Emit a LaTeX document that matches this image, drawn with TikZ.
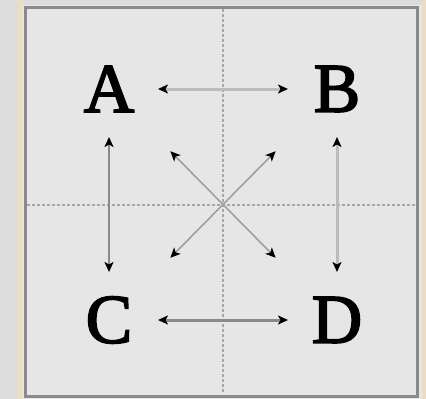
\documentclass[tikz,border=0pt]{standalone}
\usepackage{fontspec}
\setmainfont{Liberation Serif}
\newfontfamily\letterfont[FakeBold=2.5]{Liberation Serif}
\usetikzlibrary{arrows.meta}
\definecolor{bgout}{HTML}{DCDCDC}
\definecolor{beige}{HTML}{EADFC6}
\definecolor{panel}{HTML}{E6E6E6}
\definecolor{frame}{HTML}{8A8A8A}
\definecolor{guide}{HTML}{A6A6A6}
\definecolor{lightln}{HTML}{BCBCBC}
\definecolor{darkln}{HTML}{8A8A8A}
\definecolor{diagln}{HTML}{A0A0A0}
\tikzset{
  letter/.style={font=\fontsize{70}{70}\letterfont, minimum width=98bp, minimum height=96bp, inner sep=0pt, outer sep=0pt},
  link/.style={{Stealth[length=10bp,width=9bp,inset=2.5bp,black]}-{Stealth[length=10bp,width=9bp,inset=2.5bp,black]}, line width=2bp},
  guideline/.style={guide, line width=1.4bp, dash pattern=on 3bp off 2bp},
}
\begin{document}
\begin{tikzpicture}[x=1bp,y=-1bp]
\useasboundingbox (0,0) rectangle (426,399);
\fill[bgout] (0,0) rectangle (426,399);
\fill[beige] (17,0) rectangle (23,399);
\fill[beige] (422,0) rectangle (426,399);
\fill[panel] (23,5) rectangle (422,399);
\draw[frame, line width=3bp] (25,7) rectangle (417,396);
\draw[guideline] (223,9) -- (223,394);
\draw[guideline] (27,205) -- (415,205);
\node[letter] (A) at (109,89) {A};
\node[letter] (B) at (337,89) {B};
\node[letter] (C) at (109,320) {C};
\node[letter] (D) at (337,320) {D};
\draw[link, lightln, line width=3bp] (A) -- (B);
\draw[link, darkln, line width=3bp] (C) -- (D);
\draw[link, darkln, line width=1.6bp] (A) -- (C);
\draw[link, lightln, line width=3bp] (B) -- (D);
\draw[link, diagln, line width=1.6bp, shorten <=20bp, shorten >=20bp] (A) -- (D);
\draw[link, diagln, line width=1.6bp, shorten <=20bp, shorten >=20bp] (B) -- (C);
\end{tikzpicture}
\end{document}
